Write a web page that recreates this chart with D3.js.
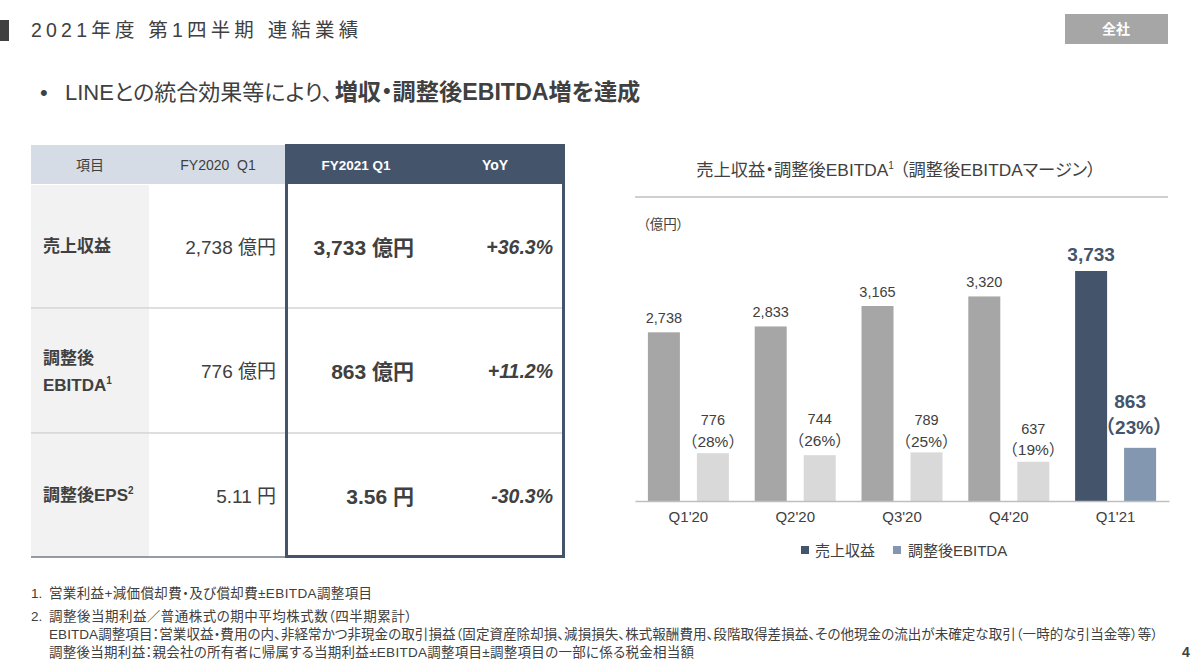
<!DOCTYPE html>
<html lang="ja">
<head>
<meta charset="utf-8">
<style>
html,body{margin:0;padding:0;background:#fff}
svg{display:block}
text{font-family:"Liberation Sans","Noto Sans CJK JP",sans-serif;fill:#404040;font-feature-settings:"palt"}
.b{font-weight:700}
</style>
<script src="https://cdn.jsdelivr.net/npm/d3@7/dist/d3.min.js"></script>
</head>
<body>
<div id="chart"></div>
<script>
// chart data
var quarters = ["Q1'20", "Q2'20", "Q3'20", "Q4'20", "Q1'21"];
var revenue = [2738, 2833, 3165, 3320, 3733];
var ebitda = [776, 744, 789, 637, 863];
var margin = [28, 26, 25, 19, 23];
var seriesNames = ["売上収益", "調整後EBITDA"];

// table data
var tableHead = ["項目", "FY2020\u00a0\u00a0Q1", "FY2021 Q1", "YoY"];
var rowLabels = [["売上収益"], ["調整後", "EBITDA"], ["調整後EPS"]];
var rowSup = ["", "1", "2"];
var prevYear = ["2,738 億円", "776 億円", "5.11 円"];
var thisYear = ["3,733 億円", "863 億円", "3.56 円"];
var yoy = ["+36.3%", "+11.2%", "-30.3%"];

var notes = [
    "営業利益+減価償却費・及び償却費±EBITDA調整項目",
    "調整後当期利益／普通株式の期中平均株式数（四半期累計）",
    "EBITDA調整項目：営業収益・費用の内、非経常かつ非現金の取引損益（固定資産除却損、減損損失、株式報酬費用、段階取得差損益、その他現金の流出が未確定な取引（一時的な引当金等）等）",
    "調整後当期利益：親会社の所有者に帰属する当期利益±EBITDA調整項目±調整項目の一部に係る税金相当額"
];

var DARK = "#44546a", TEXT = "#404040", MID = "#8497b0";

var svg = d3.select("#chart").append("svg").attr("width", 1200).attr("height", 669);

function label(x, y, str, size, anchor, bold) {
    return svg.append("text").attr("x", x).attr("y", y)
        .attr("font-size", size).attr("text-anchor", anchor || "start")
        .attr("dominant-baseline", "central")
        .classed("b", !!bold).text(str);
}

// header band
svg.append("rect").attr("x", 0).attr("y", 20).attr("width", 9).attr("height", 21).attr("fill", "#404040");
label(31, 30, "2021年度 第1四半期 連結業績", 19.5).attr("letter-spacing", 4.2).style("font-feature-settings", "normal");
svg.append("rect").attr("x", 1065).attr("y", 14).attr("width", 103).attr("height", 30).attr("fill", "#a6a6a6");
label(1116, 29, "全社", 14, "middle", true).style("fill", "#fff");

var lead = label(40, 92, "", 22);
lead.append("tspan").text("•");
lead.append("tspan").attr("x", 65).text("LINEとの統合効果等により、");
lead.append("tspan").attr("class", "b").attr("dx", 2).attr("font-size", 23.2).text("増収・調整後EBITDA増を達成");

// table
var rowY = d3.scaleOrdinal().domain([0, 1, 2]).range([185, 309, 434]);
var rowH = [123, 124, 123];
var colX = [31, 149, 285, 565];

svg.append("rect").attr("x", colX[0]).attr("y", 145).attr("width", colX[2] - colX[0]).attr("height", 39).attr("fill", "#d6dce5");
svg.append("rect").attr("x", colX[2]).attr("y", 144).attr("width", colX[3] - colX[2]).attr("height", 40).attr("fill", DARK);

svg.selectAll("rect.rowhead").data(rowLabels).join("rect")
    .attr("class", "rowhead")
    .attr("x", colX[0]).attr("y", function(d, i) { return rowY(i); })
    .attr("width", colX[1] - colX[0]).attr("height", function(d, i) { return rowH[i]; })
    .attr("fill", "#f2f2f2");

[308, 433].forEach(function(y) {
    svg.append("line").attr("x1", colX[0]).attr("x2", colX[3]).attr("y1", y).attr("y2", y)
        .attr("stroke", "#bfbfbf").attr("stroke-width", 1.2);
});
svg.append("line").attr("x1", colX[0]).attr("x2", colX[2]).attr("y1", 557).attr("y2", 557)
    .attr("stroke", "#6f7b8c").attr("stroke-width", 1.6);
svg.append("rect").attr("x", colX[2] + 1.5).attr("y", 145.5).attr("width", colX[3] - colX[2] - 3).attr("height", 411)
    .attr("fill", "none").attr("stroke", DARK).attr("stroke-width", 3);

label(90, 165, tableHead[0], 14, "middle");
label(218, 165, tableHead[1], 14, "middle");
label(356, 165, tableHead[2], 13.5, "middle", true).style("fill", "#fff");
label(495, 165, tableHead[3], 14, "middle", true).style("fill", "#fff");

var rowMid = [247, 371, 496];
rowLabels.forEach(function(lines, i) {
    lines.forEach(function(s, j) {
        var y = lines.length > 1 ? rowMid[i] - 13 + j * 27 : rowMid[i] - 1;
        var t = label(43, y, s, 17, "start", true);
        if (j == lines.length - 1 && rowSup[i]) {
            t.append("tspan").attr("font-size", 10).attr("dy", -5).text(rowSup[i]);
        }
    });
    label(276, rowMid[i], prevYear[i], 19, "end");
    label(414, rowMid[i], thisYear[i], 21, "end", true);
    label(553, rowMid[i], yoy[i], 19.5, "end", true).attr("font-style", "italic");
});

// chart
label(896, 170, "", 17.3, "middle")
    .call(function(t) {
        t.append("tspan").text("売上収益・調整後EBITDA");
        t.append("tspan").attr("font-size", 10).attr("dy", -5).text("1");
        t.append("tspan").attr("dy", 5).attr("dx", 6).text("（調整後EBITDAマージン）");
    });
svg.append("line").attr("x1", 635).attr("x2", 1168).attr("y1", 197).attr("y2", 197)
    .attr("stroke", "#bfbfbf").attr("stroke-width", 1.4);
label(643, 224, "（億円）", 13.5);

var x = d3.scaleBand().domain(quarters).range([635, 1169]);
var inner = d3.scaleBand().domain([0, 1]).range([x.bandwidth() / 2 - 40.5, x.bandwidth() / 2 + 40.5]).paddingInner(0.347);
var y = d3.scaleLinear().domain([0, 3733]).range([501, 271]);

var groups = svg.selectAll("g.q").data(quarters).join("g")
    .attr("class", "q")
    .attr("transform", function(d) { return "translate(" + x(d) + ",0)"; });

groups.append("rect")
    .attr("x", inner(0)).attr("width", inner.bandwidth())
    .attr("y", function(d, i) { return y(revenue[i]); })
    .attr("height", function(d, i) { return y(0) - y(revenue[i]); })
    .attr("fill", function(d, i) { return i == 4 ? DARK : "#a6a6a6"; });
groups.append("rect")
    .attr("x", inner(1)).attr("width", inner.bandwidth())
    .attr("y", function(d, i) { return y(ebitda[i]); })
    .attr("height", function(d, i) { return y(0) - y(ebitda[i]); })
    .attr("fill", function(d, i) { return i == 4 ? MID : "#d9d9d9"; });

// ebitda labels sit a little off the bar top in the source
var nudge = [0, -3, 1, 0, 0];
groups.each(function(d, i) {
    var g = d3.select(this), last = i == 4;
    var cx0 = inner(0) + inner.bandwidth() / 2, cx1 = inner(1) + inner.bandwidth() / 2;
    var add = function(cx, py, s) {
        return g.append("text").attr("x", cx).attr("y", py)
            .attr("text-anchor", "middle").attr("dominant-baseline", "central")
            .attr("font-size", last ? 19 : 14.5).classed("b", last)
            .style("fill", last ? DARK : TEXT).text(s);
    };
    add(cx0, y(revenue[i]) - (last ? 17 : 14), d3.format(",")(revenue[i]));
    add(cx1 - (last ? 10 : 0), y(ebitda[i]) - (last ? 46 : 33) + nudge[i], ebitda[i]);
    add(cx1 - (last ? 6 : 0), y(ebitda[i]) - (last ? 20 : 12) + nudge[i], "（" + margin[i] + "%）")
        .style("font-feature-settings", "normal")
        .attr("font-size", last ? 19 : 15.5);
});

var axis = svg.append("g").attr("transform", "translate(0,501)")
    .call(d3.axisBottom(x).tickSize(0).tickPadding(10));
axis.select(".domain").attr("stroke", "#bfbfbf").attr("stroke-width", 1.4);
axis.selectAll("text").attr("font-size", 15).style("font-family", '"Liberation Sans","Noto Sans CJK JP",sans-serif');

// legend
var legendX = [801, 893], legendText = [815, 908], legendColor = [DARK, MID];
seriesNames.forEach(function(s, i) {
    svg.append("rect").attr("x", legendX[i]).attr("y", 546).attr("width", 8).attr("height", 8).attr("fill", legendColor[i]);
    label(legendText[i], 550, s, 15);
});

// notes
var noteY = [593, 616, 634, 652], noteW = [323, 363, 1109, 645];
label(31, noteY[0], "1.", 13.5);
label(31, noteY[1], "2.", 13.5);
notes.forEach(function(s, i) {
    label(49, noteY[i], s, 13.5).attr("textLength", noteW[i]).attr("lengthAdjust", "spacing");
});
label(1186, 652, "4", 14, "middle", true);
</script>
</body>
</html>
